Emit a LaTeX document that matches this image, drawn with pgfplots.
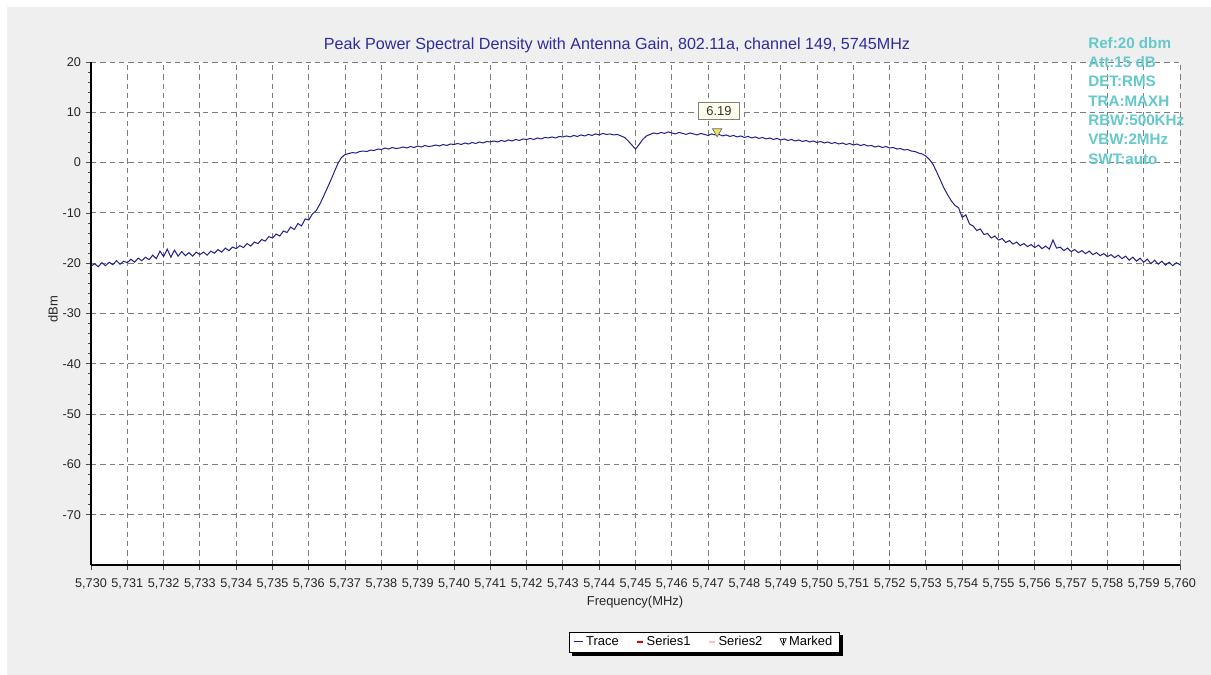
\documentclass[border=0pt]{standalone}
\usepackage{pgfplots}
\pgfplotsset{compat=1.18}
\usepackage{pgfplotstable}
\usepackage{fontspec}
\setmainfont{Liberation Sans}
\definecolor{bggray}{RGB}{239,239,239}
\definecolor{tracecol}{RGB}{32,32,138}
\definecolor{titlecol}{RGB}{45,45,155}
\definecolor{annocol}{RGB}{100,200,205}
\definecolor{gridcol}{RGB}{125,125,125}
\definecolor{markfill}{RGB}{240,228,90}
\pgfplotsset{
  trleg/.style={legend image code/.code={\draw[tracecol, line width=0.7pt] (0pt,0pt) -- (7pt,0pt);}},
  s1leg/.style={legend image code/.code={\draw[red!85!black, line width=2pt] (2pt,0pt) -- (6pt,0pt);}},
  s2leg/.style={legend image code/.code={\draw[red!25, line width=2pt] (2pt,0pt) -- (6pt,0pt);}},
  mkleg/.style={legend image code/.code={\draw[black, line width=0.5pt] (1.2pt,2.5pt) -- (5.8pt,2.5pt) -- (3.5pt,-2.5pt) -- cycle; \draw[black, line width=0.5pt] (3.5pt,2.5pt) -- (3.5pt,-0.5pt);}},
}
\pgfplotstableread{
x y
5730.0 -20.6
5730.1 -20.1
5730.2 -20.7
5730.3 -19.9
5730.4 -20.5
5730.5 -19.8
5730.6 -20.3
5730.7 -19.5
5730.8 -20.2
5730.9 -19.6
5731.0 -19.9
5731.1 -19.2
5731.2 -19.8
5731.3 -19.0
5731.4 -19.5
5731.5 -18.8
5731.6 -19.3
5731.7 -18.4
5731.8 -19.1
5731.9 -17.6
5732.0 -18.7
5732.1 -17.2
5732.2 -18.8
5732.3 -17.4
5732.4 -18.6
5732.5 -17.7
5732.6 -18.5
5732.7 -17.9
5732.8 -18.6
5732.9 -17.8
5733.0 -18.3
5733.1 -17.8
5733.2 -18.4
5733.3 -17.6
5733.4 -18.0
5733.5 -17.3
5733.6 -17.8
5733.7 -17.0
5733.8 -17.5
5733.9 -16.8
5734.0 -17.1
5734.1 -16.5
5734.2 -16.9
5734.3 -16.1
5734.4 -16.6
5734.5 -15.8
5734.6 -16.1
5734.7 -15.3
5734.8 -15.6
5734.9 -14.7
5735.0 -15.0
5735.1 -14.2
5735.2 -14.6
5735.3 -13.6
5735.4 -13.9
5735.5 -12.8
5735.6 -13.3
5735.7 -12.1
5735.8 -12.6
5735.9 -11.2
5736.0 -11.4
5736.1 -10.2
5736.2 -9.6
5736.3 -8.3
5736.4 -6.8
5736.5 -5.2
5736.6 -3.6
5736.7 -1.9
5736.8 -0.2
5736.9 1.0
5737.0 1.6
5737.1 1.8
5737.2 2.0
5737.3 1.9
5737.4 2.2
5737.5 2.3
5737.6 2.2
5737.7 2.5
5737.8 2.4
5737.9 2.7
5738.0 2.6
5738.1 2.9
5738.2 2.7
5738.3 3.0
5738.4 2.8
5738.5 2.9
5738.6 3.1
5738.7 2.9
5738.8 3.2
5738.9 3.0
5739.0 3.3
5739.1 3.1
5739.2 3.4
5739.3 3.2
5739.4 3.3
5739.5 3.5
5739.6 3.3
5739.7 3.6
5739.8 3.4
5739.9 3.7
5740.0 3.6
5740.1 3.8
5740.2 3.6
5740.3 3.9
5740.4 3.7
5740.5 4.0
5740.6 3.8
5740.7 4.1
5740.8 3.9
5740.9 4.2
5741.0 4.1
5741.1 4.3
5741.2 4.1
5741.3 4.4
5741.4 4.2
5741.5 4.5
5741.6 4.3
5741.7 4.6
5741.8 4.4
5741.9 4.7
5742.0 4.6
5742.1 4.8
5742.2 4.6
5742.3 4.9
5742.4 4.7
5742.5 5.0
5742.6 4.9
5742.7 5.1
5742.8 4.9
5742.9 5.2
5743.0 5.1
5743.1 5.3
5743.2 5.1
5743.3 5.4
5743.4 5.2
5743.5 5.5
5743.6 5.3
5743.7 5.6
5743.8 5.4
5743.9 5.7
5744.0 5.5
5744.1 5.8
5744.2 5.6
5744.3 5.7
5744.4 5.5
5744.5 5.6
5744.6 5.3
5744.7 5.0
5744.8 4.3
5744.9 3.5
5745.0 2.7
5745.1 3.6
5745.2 4.6
5745.3 5.3
5745.4 5.6
5745.5 5.9
5745.6 5.7
5745.7 6.0
5745.8 5.8
5745.9 6.1
5746.0 5.9
5746.1 5.7
5746.2 6.0
5746.3 5.8
5746.4 5.6
5746.5 5.9
5746.6 5.7
5746.7 5.5
5746.8 5.8
5746.9 5.6
5747.0 5.4
5747.1 5.7
5747.2 5.5
5747.3 5.6
5747.4 5.3
5747.5 5.5
5747.6 5.2
5747.7 5.4
5747.8 5.1
5747.9 5.3
5748.0 5.0
5748.1 5.2
5748.2 4.9
5748.3 5.1
5748.4 4.8
5748.5 5.0
5748.6 4.7
5748.7 4.9
5748.8 4.6
5748.9 4.8
5749.0 4.5
5749.1 4.7
5749.2 4.4
5749.3 4.6
5749.4 4.3
5749.5 4.5
5749.6 4.2
5749.7 4.4
5749.8 4.1
5749.9 4.3
5750.0 4.0
5750.1 4.2
5750.2 3.9
5750.3 4.1
5750.4 3.8
5750.5 4.0
5750.6 3.7
5750.7 3.9
5750.8 3.6
5750.9 3.8
5751.0 3.5
5751.1 3.7
5751.2 3.4
5751.3 3.6
5751.4 3.3
5751.5 3.4
5751.6 3.1
5751.7 3.3
5751.8 3.0
5751.9 3.2
5752.0 2.9
5752.1 3.0
5752.2 2.7
5752.3 2.8
5752.4 2.5
5752.5 2.6
5752.6 2.3
5752.7 2.2
5752.8 1.9
5752.9 1.7
5753.0 1.3
5753.1 0.6
5753.2 -0.4
5753.3 -1.9
5753.4 -3.5
5753.5 -5.1
5753.6 -6.4
5753.7 -7.6
5753.8 -8.5
5753.9 -9.0
5754.0 -10.9
5754.1 -10.4
5754.2 -12.2
5754.3 -12.6
5754.4 -13.5
5754.5 -13.2
5754.6 -14.3
5754.7 -14.1
5754.8 -15.0
5754.9 -14.6
5755.0 -15.4
5755.1 -15.1
5755.2 -15.9
5755.3 -15.5
5755.4 -16.2
5755.5 -15.8
5755.6 -16.5
5755.7 -16.1
5755.8 -16.7
5755.9 -16.3
5756.0 -16.9
5756.1 -16.4
5756.2 -17.1
5756.3 -16.6
5756.4 -17.2
5756.5 -15.4
5756.6 -17.0
5756.7 -16.8
5756.8 -17.5
5756.9 -17.0
5757.0 -17.7
5757.1 -17.3
5757.2 -17.9
5757.3 -17.5
5757.4 -18.1
5757.5 -17.6
5757.6 -18.3
5757.7 -17.9
5757.8 -18.5
5757.9 -18.1
5758.0 -18.7
5758.1 -18.3
5758.2 -18.9
5758.3 -18.4
5758.4 -19.1
5758.5 -18.6
5758.6 -19.4
5758.7 -18.8
5758.8 -19.6
5758.9 -19.0
5759.0 -19.8
5759.1 -19.2
5759.2 -20.1
5759.3 -19.4
5759.4 -20.2
5759.5 -19.6
5759.6 -20.4
5759.7 -19.8
5759.8 -20.5
5759.9 -19.9
5760.0 -20.3
}\tracedata
\begin{document}
\begin{tikzpicture}[x=0.75pt,y=0.75pt]
\fill[white] (0,0) rectangle (1211,675);
\useasboundingbox (0,0) rectangle (1211,675);
\fill[bggray] (7,0) rectangle (1211,668);
\begin{axis}[
  at={(68.25pt,82.5pt)}, anchor=south west,
  scale only axis, width=816.75pt, height=377.25pt,
  xmin=5730, xmax=5760, ymin=-80, ymax=20,
  axis lines=left,
  axis line style={-, line width=1.8pt, black},
  axis background/.style={fill=white},
  xtick={5730,5731,...,5760}, ytick={-70,-60,...,20},
  minor x tick num=4, minor y tick num=4,
  tick align=outside, major tick length=4pt, minor tick length=2.5pt,
  tick style={black!70, line width=0.6pt},
  grid=major,
  major grid style={gridcol, line width=0.75pt, dash pattern=on 4pt off 3pt},
  scaled x ticks=false, scaled y ticks=false,
  /pgf/number format/assume math mode=true,
  /pgf/number format/1000 sep={,},
  xticklabel style={font=\fontsize{9.5}{11}\selectfont, text=black!85, yshift=-2.5pt, /pgf/number format/fixed, /pgf/number format/precision=0},
  yticklabel style={font=\fontsize{9.5}{11}\selectfont, text=black!85},
  legend columns=4,
  legend style={name=leg, at={(0.563,-0.153)}, anchor=center, draw=black, line width=0.6pt, fill=white,
    font=\fontsize{9.7}{11}\selectfont,
    inner xsep=3pt, inner ysep=1.2pt,
    /tikz/every even column/.append style={column sep=11pt}},
]
\addplot[tracecol, line width=0.75pt, trleg] table[x=x, y=y] {\tracedata};
\addlegendentry{Trace}
\addlegendimage{s1leg}
\addlegendentry{Series1}
\addlegendimage{s2leg}
\addlegendentry{Series2}
\addlegendimage{mkleg}
\addlegendentry{Marked}
\addplot[forget plot, only marks, mark=triangle*, mark size=4pt, mark options={rotate=180, fill=markfill, draw=black!60, line width=0.5pt}] coordinates {(5747.25,6.19)};
\node[draw=gray, fill=yellow!8, text=black!80, font=\fontsize{9.7}{11}\selectfont, inner sep=0pt, minimum width=30.75pt, minimum height=12.75pt] at (axis cs:5747.3,10.25) {6.19};
\end{axis}
\fill[black] ([xshift=2.6pt,yshift=-2.6pt]leg.south west) rectangle ([xshift=2.6pt]leg.south east);
\fill[black] ([yshift=-2.6pt]leg.south east) rectangle ([xshift=2.6pt,yshift=-2.6pt]leg.north east);
\node[anchor=base, text=titlecol, font=\fontsize{12.1}{14}\selectfont] at (617,625) {Peak Power Spectral Density with Antenna Gain, 802.11a, channel 149, 5745MHz};
\node[anchor=base, text=black!85, font=\fontsize{9.7}{11}\selectfont] at (635,69) {Frequency(MHz)};
\node[rotate=90, text=black!85, font=\fontsize{9.7}{11}\selectfont] at (53,366) {dBm};
\node[anchor=north west, inner sep=0pt, text=annocol, font=\bfseries\fontsize{11.4}{14.5}\selectfont, align=left] at (1088,638) {Ref:20 dbm\\Att:15 dB\\DET:RMS\\TRA:MAXH\\RBW:500KHz\\VBW:2MHz\\SWT:auto};
\end{tikzpicture}
\end{document}
